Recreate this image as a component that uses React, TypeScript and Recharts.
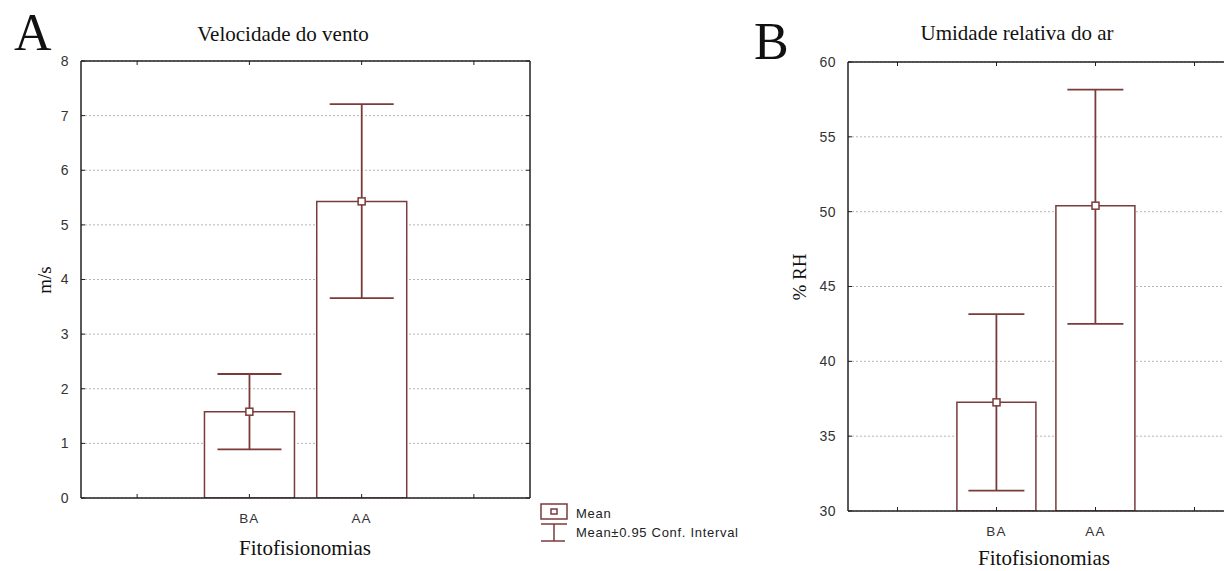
import { ComposedChart, Bar, ErrorBar, Line, XAxis, YAxis, CartesianGrid, Legend } from 'recharts'

// category slots: empty padding on each side like the Statistica output
const CATS = ['pad1', 'BA', 'AA', 'pad2']
const GROUPS = ['BA', 'AA']

// A: wind speed (m/s)
const WIND_MEAN = [1.58, 5.43]
const WIND_LOW = [0.89, 3.66]
const WIND_HIGH = [2.27, 7.21]
const WIND_TICKS = [0, 1, 2, 3, 4, 5, 6, 7, 8]

// B: relative humidity (%)
const RH_MEAN = [37.26, 50.4]
const RH_LOW = [31.36, 42.5]
const RH_HIGH = [43.15, 58.15]
const RH_TICKS = [30, 35, 40, 45, 50, 55, 60]

const RED = '#7b3b3b'
const AXIS = '#222'
const SANS = '"Liberation Sans", Arial, sans-serif'
const SERIF = '"Liberation Serif", "Times New Roman", serif'

function buildRows(mean: number[], low: number[], high: number[]) {
  return CATS.map(cat => {
    const i = GROUPS.indexOf(cat)
    if (i < 0) return { cat, mean: null, err: undefined }
    return { cat, mean: mean[i], err: [mean[i] - low[i], high[i] - mean[i]] }
  })
}

const hidePad = (v: string) => (v.startsWith('pad') ? '' : v)

function MeanDot(p: any) {
  if (p.value == null || p.cy == null) return <g key={p.index} />
  return <rect key={p.index} x={p.cx - 3.5} y={p.cy - 3.5} width={7} height={7} fill="#fff" stroke={RED} strokeWidth={1.5} />
}

function LegendBox() {
  return (
    <svg width={240} height={46} style={{ display: 'block' }}>
      <rect x={1} y={2} width={26} height={15} fill="#fff" stroke={RED} strokeWidth={1.5} />
      <rect x={11} y={7} width={6} height={5} fill="#fff" stroke={RED} strokeWidth={1.5} />
      <text x={36} y={16} fontFamily={SANS} fontSize={13} letterSpacing={0.7} fill="#222">Mean</text>
      <line x1={1} x2={27} y1={22} y2={22} stroke={RED} strokeWidth={1.5} />
      <line x1={14} x2={14} y1={22} y2={39} stroke={RED} strokeWidth={1.5} />
      <line x1={1} x2={25} y1={39} y2={39} stroke={RED} strokeWidth={1.5} />
      <text x={36} y={35} fontFamily={SANS} fontSize={13} letterSpacing={0.7} fill="#222">Mean±0.95 Conf. Interval</text>
    </svg>
  )
}

interface PanelProps {
  rows: any[]
  width: number
  height: number
  margin: { top: number; right: number; bottom: number; left: number }
  domain: [number, number]
  ticks: number[]
  yWidth: number
  capHalf: number
  legend?: boolean
}

function Panel({ rows, width, height, margin, domain, ticks, yWidth, capHalf, legend }: PanelProps) {
  const yTick = { fill: '#333', fontSize: 14, fontFamily: SANS, letterSpacing: 0.5 }
  const xTick = { fill: '#333', fontSize: 13.5, fontFamily: SANS, letterSpacing: 1.2 }
  return (
    <ComposedChart width={width} height={height} data={rows} margin={margin} barCategoryGap="10%">
      <CartesianGrid yAxisId="left" vertical={false} stroke="#b5b5b5" strokeDasharray="2 2" />
      <XAxis dataKey="cat" interval={0} height={30} tickFormatter={hidePad} tickSize={-4} tickMargin={19}
        axisLine={{ stroke: AXIS, strokeWidth: 1.5 }} tickLine={{ stroke: AXIS }} tick={xTick} />
      <XAxis xAxisId="top" orientation="top" dataKey="cat" interval={0} height={1} tickFormatter={() => ''} tickSize={-4}
        axisLine={{ stroke: AXIS, strokeWidth: 1.5 }} tickLine={{ stroke: AXIS }} />
      <YAxis yAxisId="left" width={yWidth} domain={domain} ticks={ticks} interval={0} allowDataOverflow tickSize={-4} tickMargin={16}
        axisLine={{ stroke: AXIS, strokeWidth: 1.5 }} tickLine={{ stroke: AXIS }} tick={yTick} />
      <YAxis yAxisId="right" orientation="right" width={1} domain={domain} ticks={ticks} interval={0} allowDataOverflow tickSize={-4}
        tickFormatter={() => ''} axisLine={{ stroke: AXIS, strokeWidth: 1.5 }} tickLine={{ stroke: AXIS }} />
      <Bar yAxisId="left" dataKey="mean" fill="#fff" stroke={RED} strokeWidth={1.5} isAnimationActive={false}>
        <ErrorBar dataKey="err" width={capHalf} stroke={RED} strokeWidth={1.8} isAnimationActive={false} />
      </Bar>
      <Line yAxisId="left" dataKey="mean" stroke="none" dot={MeanDot} activeDot={false} isAnimationActive={false} />
      {legend && (
        <Legend layout="horizontal" verticalAlign="middle" align="center" content={() => <LegendBox />}
          wrapperStyle={{ position: 'absolute', left: 540, top: 502, width: 240, height: 46 }} />
      )}
    </ComposedChart>
  )
}

export default function App() {
  const windRows = buildRows(WIND_MEAN, WIND_LOW, WIND_HIGH)
  const rhRows = buildRows(RH_MEAN, RH_LOW, RH_HIGH)
  return (
    <div style={{ position: 'fixed', left: 0, top: 0, width: 1224, height: 571, overflow: 'hidden', background: '#fff' }}>
      <div style={{ position: 'absolute', left: 0, top: 0 }}>
        <Panel rows={windRows} width={760} height={571} margin={{ top: 60, right: 229, bottom: 43, left: 0 }}
          domain={[0, 8]} ticks={WIND_TICKS} yWidth={81} capHalf={32} legend />
      </div>
      <div style={{ position: 'absolute', left: 760, top: 0 }}>
        <Panel rows={rhRows} width={500} height={571} margin={{ top: 61, right: 15, bottom: 30, left: 0 }}
          domain={[30, 60]} ticks={RH_TICKS} yWidth={88} capHalf={28} />
      </div>
      <svg width={1224} height={571} style={{ position: 'absolute', left: 0, top: 0, pointerEvents: 'none' }}>
        <g fontFamily={SERIF} fill="#111">
          <text x={14} y={50} fontSize={52}>A</text>
          <text x={754} y={59} fontSize={52}>B</text>
          <text x={283} y={41} fontSize={21} textAnchor="middle">Velocidade do vento</text>
          <text x={1017} y={40} fontSize={21} textAnchor="middle">Umidade relativa do ar</text>
          <text x={305} y={555} fontSize={21} textAnchor="middle">Fitofisionomias</text>
          <text x={1044} y={565} fontSize={21} textAnchor="middle">Fitofisionomias</text>
          <text x={51} y={280} fontSize={19} textAnchor="middle" transform="rotate(-90 51 280)">m/s</text>
          <text x={806} y={277} fontSize={19} textAnchor="middle" transform="rotate(-90 806 277)">% RH</text>
        </g>
      </svg>
    </div>
  )
}
